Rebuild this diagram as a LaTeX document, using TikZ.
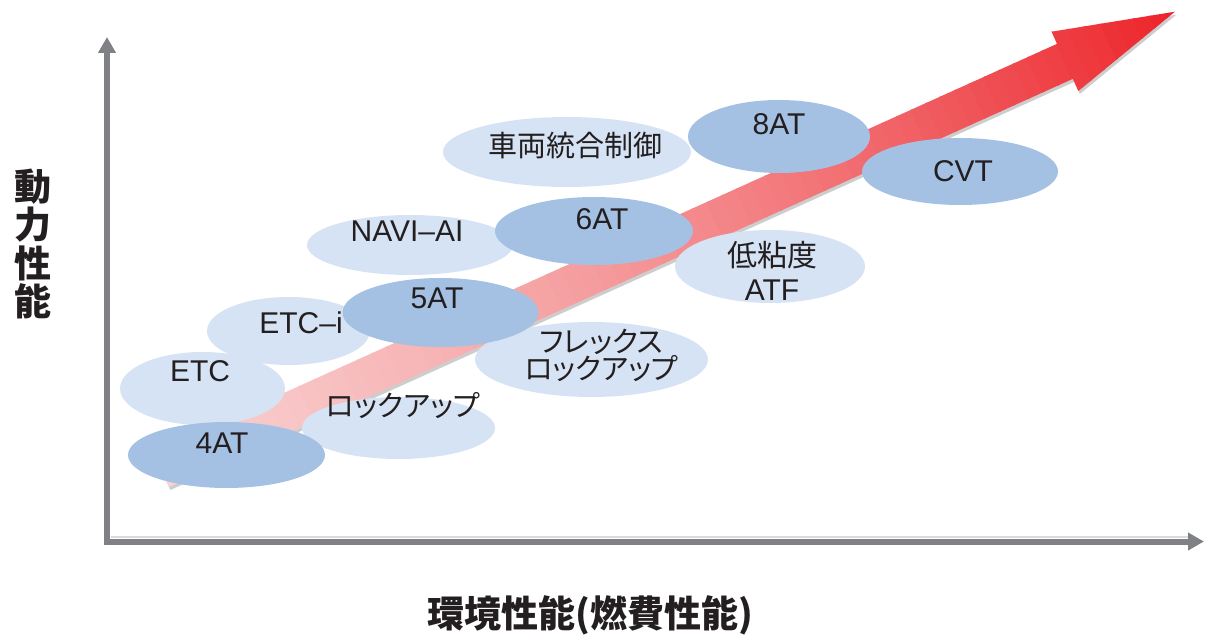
\documentclass[tikz,border=0pt]{standalone}
\usepackage{fontspec}
\setmainfont{Liberation Sans}
\newfontfamily\jp{Noto Sans CJK JP}
\newfontfamily\jpk[RawFeature=+palt]{Noto Sans CJK JP}
\usetikzlibrary{shapes.geometric,arrows.meta}
\definecolor{lightblue}{RGB}{214,227,244}
\definecolor{darkblue}{RGB}{164,193,228}
\definecolor{txt}{RGB}{35,31,32}
\definecolor{axisgray}{RGB}{128,129,133}
\definecolor{axislight}{RGB}{218,218,218}
\definecolor{tailpink}{RGB}{249,210,210}
\definecolor{headred}{RGB}{236,32,38}
\definecolor{shadowgray}{RGB}{205,205,205}
\tikzset{
  ell/.style={ellipse, inner sep=0pt, draw=none},
  lightell/.style={ell, fill=lightblue},
  darkell/.style={ell, fill=darkblue},
  lbl/.style={text=txt, inner sep=0pt, font=\fontsize{30}{34}\selectfont},
  jlbl/.style={text=txt, inner sep=0pt, font=\jpk\fontsize{29}{25}\selectfont},
  axisline/.style={draw=axisgray, line width=6pt, -{Triangle[length=16pt,width=17pt]}},
  axislab/.style={text=txt, inner sep=0pt, font=\jp\bfseries\fontsize{37}{38.5}\selectfont}
}
\newcommand{\arrowshape}{(0,-19.2) -- (992,-19.2) -- (992,-32.5) -- (1112.5,0) -- (992,32.5) -- (992,19.2) -- (0,19.2) -- cycle}
\begin{document}
\begin{tikzpicture}[x=1pt,y=-1pt]
\useasboundingbox (0,0) rectangle (1205,636);
% axes
\coordinate (Ybot) at (107,544.5);
\coordinate (Ytop) at (107,37);
\coordinate (Xleft) at (104,541.5);
\coordinate (Xright) at (1204,541.5);
\coordinate (Lh1) at (111,537);
\coordinate (Lh2) at (1188,537);
\draw[axislight, line width=1.5pt] (Lh1) -- (Lh2);
\draw[axisline] (Ybot) -- (Ytop);
\draw[axisline] (Xleft) -- (Xright);
% big arrow shadow
\begin{scope}[shift={(162.5,472.5)}, rotate=24.3]
  \fill[shadowgray] \arrowshape;
\end{scope}
% big arrow with gradient
\begin{scope}[shift={(161,469.5)}, rotate=24.3]
  \clip \arrowshape;
  \foreach \i in {0,...,70}{
    \pgfmathsetmacro\t{\i/70}
    \pgfmathsetmacro\p{100*(0.55*\t+0.45*\t*\t)}
    \fill[headred!\p!tailpink] (\i*16-1,-40) rectangle (\i*16+17,40);
  }
\end{scope}
% light ellipses
\node[lightell, minimum width=165pt, minimum height=73pt] (eetc) at (202.5,388.5) {};
\node[lightell, minimum width=163pt, minimum height=68pt] (eetci) at (288.5,331) {};
\node[lightell, minimum width=193pt, minimum height=62pt] (elock) at (398.5,428) {};
\node[lightell, minimum width=206pt, minimum height=60pt] (enavi) at (410,245) {};
\node[lightell, minimum width=233pt, minimum height=75pt] (eflex) at (591.5,359.5) {};
\node[lightell, minimum width=248pt, minimum height=70pt] (esharyo) at (567,152) {};
\node[lightell, minimum width=190pt, minimum height=73pt] (eatf) at (770,266.5) {};
% dark ellipses
\node[darkell, minimum width=197pt, minimum height=66pt] (e4at) at (226.5,455) {};
\node[darkell, minimum width=196pt, minimum height=69pt] (e5at) at (440.5,312.5) {};
\node[darkell, minimum width=198pt, minimum height=68pt] (e6at) at (594,231) {};
\node[darkell, minimum width=182pt, minimum height=73pt] (e8at) at (779,136.5) {};
\node[darkell, minimum width=196pt, minimum height=67pt] (ecvt) at (960,171.5) {};
% labels
\node[lbl] (t4at) at (222,443.5) {4AT};
\node[lbl] (tetc) at (200,371.5) {ETC};
\node[lbl] (tetci) at (301,322.5) {ETC–i};
\node[lbl] (t5at) at (437,298.5) {5AT};
\node[jlbl] (tlock) at (403,406) {ロックアップ};
\node[lbl] (tnavi) at (407,231.5) {NAVI–AI};
\node[lbl] (t6at) at (602,219.5) {6AT};
\node[jlbl, align=center] (tflex) at (601.5,355.5) {フレックス\\ロックアップ};
\node[jlbl, font=\jp\fontsize{29}{30}\selectfont] (tsharyo) at (575,146) {車両統合制御};
\node[lbl] (t8at) at (779,124.5) {8AT};
\node[lbl, align=center, font=\fontsize{30}{34}\selectfont] (tatf) at (772,271) {{\jp 低粘度}\\ATF};
\node[lbl] (tcvt) at (963,171.5) {CVT};
% axis labels
\node[axislab, align=center] (ylab) at (33,244) {動\\力\\性\\能};
\node[axislab] (xlab) at (590.5,615) {環境性能(燃費性能)};
\end{tikzpicture}
\end{document}
